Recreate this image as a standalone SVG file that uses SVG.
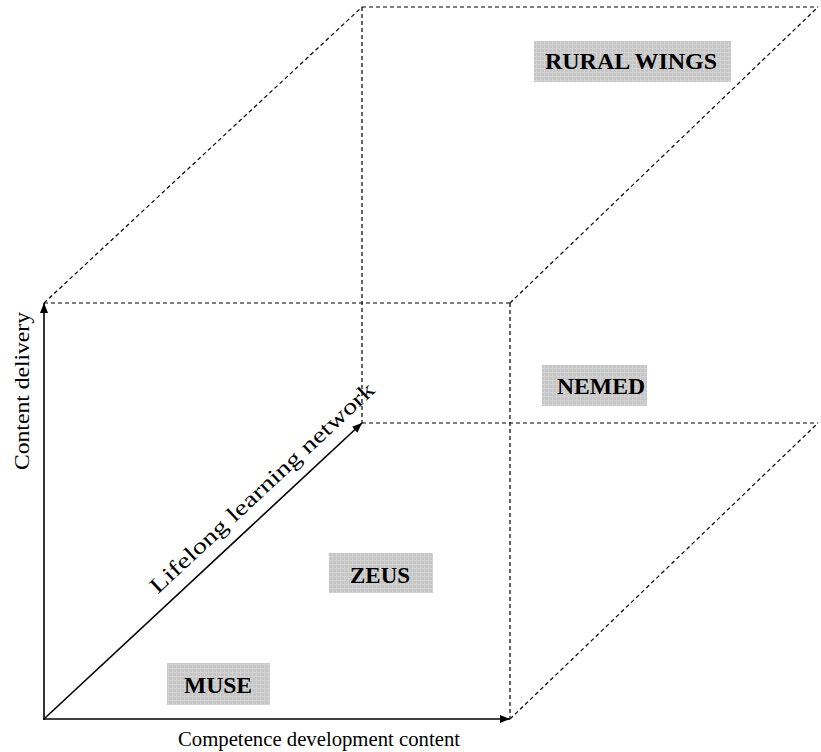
<svg xmlns="http://www.w3.org/2000/svg" width="821" height="752" viewBox="0 0 821 752">
<style>
.ax{stroke:#000;stroke-width:1.6;fill:none}
.ds{stroke:#000;stroke-width:1.2;stroke-dasharray:4,3;fill:none}
.lbl{font-family:"Liberation Serif","Times New Roman",serif;font-size:22px;fill:#000}
.box{fill:url(#grid)}
.bt{font-family:"Liberation Serif","Times New Roman",serif;font-size:23px;font-weight:bold;fill:#000;text-anchor:middle}
</style>
<defs>
<marker id="ah" viewBox="0 0 10 8" refX="10" refY="4" markerWidth="10" markerHeight="8" markerUnits="userSpaceOnUse" orient="auto">
<path d="M0,0 L10,4 L0,8 Z" fill="#000"/>
</marker>
<pattern id="grid" width="4" height="4" patternUnits="userSpaceOnUse">
<rect width="4" height="4" fill="#c6c6c6"/>
<path d="M0,0.5 H4 M0.5,0 V4" stroke="#d2d2d2" stroke-width="1"/>
</pattern>
</defs>
<rect width="821" height="752" fill="#fff"/>
<g id="connectors">
<line class="ds" x1="44" y1="303" x2="510" y2="303"/>
<line class="ds" x1="510" y1="303" x2="510" y2="719"/>
<line class="ds" x1="44" y1="303" x2="362" y2="7"/>
<line class="ds" x1="510" y1="303" x2="818" y2="7"/>
<line class="ds" x1="510" y1="719" x2="818" y2="423"/>
<line class="ds" x1="362" y1="7" x2="818" y2="7"/>
<line class="ds" x1="362" y1="7" x2="362" y2="423"/>
<line class="ds" x1="362" y1="423" x2="818" y2="423"/>
<line class="ax" x1="44" y1="720" x2="44" y2="303" marker-end="url(#ah)"/>
<line class="ax" x1="43" y1="719" x2="510" y2="719" marker-end="url(#ah)"/>
<line class="ax" x1="45" y1="718" x2="362" y2="423" marker-end="url(#ah)"/>
</g>
<g id="axis-labels">
<text class="lbl" transform="translate(29,391) rotate(-90)" text-anchor="middle" textLength="158" lengthAdjust="spacingAndGlyphs">Content delivery</text>
<text class="lbl" x="319" y="746" text-anchor="middle" textLength="282" lengthAdjust="spacingAndGlyphs">Competence development content</text>
<text class="lbl" transform="translate(267,493) rotate(-42.9)" text-anchor="middle" font-size="24" textLength="298" lengthAdjust="spacingAndGlyphs">Lifelong learning network</text>
</g>
<g id="rural-wings">
<rect class="box" x="534" y="41" width="197" height="41"/>
<text class="bt" x="631" y="69" textLength="172" lengthAdjust="spacingAndGlyphs">RURAL WINGS</text>
</g>
<g id="nemed">
<rect class="box" x="542" y="365" width="105" height="41"/>
<text class="bt" x="601" y="394" textLength="88" lengthAdjust="spacingAndGlyphs">NEMED</text>
</g>
<g id="zeus">
<rect class="box" x="329" y="553" width="104" height="40"/>
<text class="bt" x="380" y="583" textLength="60" lengthAdjust="spacingAndGlyphs">ZEUS</text>
</g>
<g id="muse">
<rect class="box" x="167" y="663" width="103" height="42"/>
<text class="bt" x="218" y="693" textLength="68" lengthAdjust="spacingAndGlyphs">MUSE</text>
</g>
</svg>
